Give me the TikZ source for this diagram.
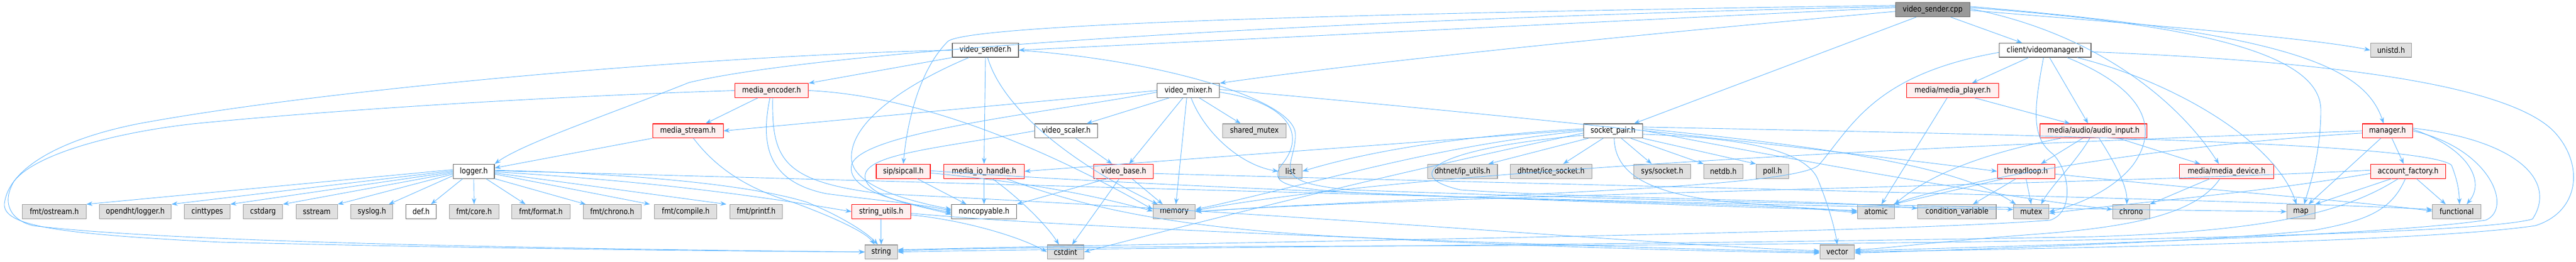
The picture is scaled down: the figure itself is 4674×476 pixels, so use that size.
\documentclass[tikz,border=0pt]{standalone}
\usepackage{fontspec}
\setmainfont{DejaVu Sans}[FakeStretch=0.86]
\usetikzlibrary{arrows.meta}
\definecolor{eb}{HTML}{63B8FF}
\definecolor{gfill}{HTML}{E0E0E0}
\definecolor{gdraw}{HTML}{999999}
\definecolor{wdraw}{HTML}{666666}
\definecolor{rfill}{HTML}{FFF0F0}
\definecolor{rdraw}{HTML}{FF0000}
\begin{document}
\begin{tikzpicture}[x=1pt,y=-1pt,
  nb/.style={draw, inner sep=0pt, minimum height=25.7pt, line width=1.1pt, font=\fontsize{14.5}{15}\selectfont},
  sysn/.style={nb, fill=gfill, draw=gdraw},
  locn/.style={nb, fill=white, draw=wdraw},
  redn/.style={nb, fill=rfill, draw=rdraw},
  rootn/.style={nb, fill=gdraw, draw=wdraw},
  e/.style={draw=eb, line width=0.9pt, -{Stealth[length=11pt,width=8pt]}}]
\useasboundingbox (0,0) rectangle (4674,476);
\fill[white] (0,0) rectangle (4674,476);
% row 1
\node[rootn, minimum width=134.7pt] (cpp) at (3506.7,17.8) {video\_sender.cpp};
% row 2
\node[locn, minimum width=120pt] (vsh) at (1788,91.2) {video\_sender.h};
\node[locn, minimum width=166.3pt] (vman) at (3710.8,91.2) {client/videomanager.h};
\node[sysn, minimum width=74.5pt] (unistd) at (4338.5,91.2) {unistd.h};
% row 3
\node[redn, minimum width=133.6pt] (menc) at (1400,164.5) {media\_encoder.h};
\node[locn, minimum width=113.3pt] (vmix) at (2156.2,164.5) {video\_mixer.h};
\node[redn, minimum width=166.3pt] (mplayer) at (3542.9,164.5) {media/media\_player.h};
% row 4
\node[redn, minimum width=128pt] (mstream) at (1248.2,237.8) {media\_stream.h};
\node[locn, minimum width=114.2pt] (vscaler) at (1934.7,237.8) {video\_scaler.h};
\node[sysn, minimum width=115.3pt] (smutex) at (2276,237.8) {shared\_mutex};
\node[locn, minimum width=106.6pt] (spair) at (2926.8,237.8) {socket\_pair.h};
\node[redn, minimum width=194.4pt] (ainput) at (3798.7,237.8) {media/audio/audio\_input.h};
\node[redn, minimum width=90.8pt] (manager) at (4331.9,237.8) {manager.h};
% row 5
\node[locn, minimum width=74.5pt] (logger) at (859.7,311.2) {logger.h};
\node[redn, minimum width=98pt] (sipcall) at (1639,311.2) {sip/sipcall.h};
\node[redn, minimum width=145.7pt] (mioh) at (1785.5,311.2) {media\_io\_handle.h};
\node[redn, minimum width=108pt] (vbase) at (2038.8,311.2) {video\_base.h};
\node[sysn, minimum width=42.5pt] (list) at (2341.3,311.2) {list};
\node[sysn, minimum width=126.8pt] (iputils) at (2653.6,311.2) {dhtnet/ip\_utils.h};
\node[sysn, minimum width=148pt] (icesock) at (2814.3,311.2) {dhtnet/ice\_socket.h};
\node[sysn, minimum width=103.1pt] (syssock) at (3015.9,311.2) {sys/socket.h};
\node[sysn, minimum width=70.5pt] (netdb) at (3126.8,311.2) {netdb.h};
\node[sysn, minimum width=59pt] (poll) at (3216,311.2) {poll.h};
\node[redn, minimum width=104pt] (tloop) at (3676.1,311.2) {threadloop.h};
\node[redn, minimum width=171pt] (mdevice) at (4040,311.2) {media/media\_device.h};
\node[redn, minimum width=136.2pt] (afactory) at (4369.4,311.2) {account\_factory.h};
% row 6
\node[sysn, minimum width=115.3pt] (ostream) at (98.5,384.5) {fmt/ostream.h};
\node[sysn, minimum width=130.6pt] (opendht) at (245.4,384.5) {opendht/logger.h};
\node[sysn, minimum width=82.6pt] (cinttypes) at (376,384.5) {cinttypes};
\node[sysn, minimum width=71pt] (cstdarg) at (477.3,384.5) {cstdarg};
\node[sysn, minimum width=75pt] (sstream) at (574.7,384.5) {sstream};
\node[sysn, minimum width=76.1pt] (syslog) at (674.8,384.5) {syslog.h};
\node[locn, minimum width=54.6pt] (def) at (764,384.5) {def.h};
\node[sysn, minimum width=89.8pt] (fcore) at (860.2,384.5) {fmt/core.h};
\node[sysn, minimum width=105.6pt] (fformat) at (981.4,384.5) {fmt/format.h};
\node[sysn, minimum width=105.1pt] (fchrono) at (1110.8,384.5) {fmt/chrono.h};
\node[sysn, minimum width=112.7pt] (fcompile) at (1244.2,384.5) {fmt/compile.h};
\node[sysn, minimum width=94.9pt] (fprintf) at (1372,384.5) {fmt/printf.h};
\node[redn, minimum width=106.7pt] (sutils) at (1598.9,384.5) {string\_utils.h};
\node[locn, minimum width=117.4pt] (noncopy) at (1785.5,384.5) {noncopyable.h};
\node[sysn, minimum width=76.6pt] (memory) at (2130.6,384.5) {memory};
\node[sysn, minimum width=66.5pt] (atomic) at (3403.8,384.5) {atomic};
\node[sysn, minimum width=142.3pt] (condvar) at (3550.8,384.5) {condition\_variable};
\node[sysn, minimum width=63.8pt] (mutex) at (3685.5,384.5) {mutex};
\node[sysn, minimum width=66.5pt] (chrono) at (3866.8,384.5) {chrono};
\node[sysn, minimum width=50.8pt] (map) at (4174.7,384.5) {map};
\node[sysn, minimum width=87.4pt] (functional) at (4457.5,384.5) {functional};
% row 7
\node[sysn, minimum width=58.5pt] (string) at (1598.9,457.8) {string};
\node[sysn, minimum width=66.5pt] (cstdint) at (1933.3,457.8) {cstdint};
\node[sysn, minimum width=62.5pt] (vector) at (3333.5,457.8) {vector};

% ---- edges from video_sender.cpp
\draw[e] ([yshift=4pt]cpp.west) -- (vsh.east);
\draw[e] ([yshift=-3pt]cpp.west) .. controls (3000,60) and (2500,110) .. (vmix.north east);
\draw[e] ([xshift=-30pt]cpp.south) -- ([xshift=38pt]spair.north);
\draw[e] ([xshift=33pt]cpp.south) -- ([xshift=-42pt]vman.north);
\draw[e] ([yshift=6pt]cpp.west) .. controls (2400,35) and (1500,90) .. (1250,150) .. controls (1100,210) and (950,260) .. (logger.north east);
\draw[e] ([yshift=8pt]cpp.west) .. controls (2400,25) and (1760,45) .. (1720,75) .. controls (1665,130) and (1645,230) .. (sipcall.north);
\draw[e] ([yshift=6pt]cpp.east) .. controls (4150,60) and (4290,120) .. ([xshift=-7pt]manager.north);
\draw[e] ([yshift=2pt]cpp.east) .. controls (3800,60) and (3950,180) .. ([xshift=-14pt]mdevice.north);
\draw[e] ([yshift=4pt]cpp.east) .. controls (4000,45) and (4211,100) .. (4211,200) .. controls (4211,280) and (4190,340) .. ([xshift=6pt]map.north);
\draw[e] ([yshift=-1pt]cpp.east) .. controls (3900,45) and (4200,70) .. (unistd.west);

% ---- video_sender.h
\draw[e] (vsh.south west) -- (menc.north east);
\draw[e] (vsh.south) -- (mioh.north);
\draw[e] ([xshift=-30pt]vsh.south) .. controls (1650,150) and (1540,220) .. (1545,290) .. controls (1550,340) and (1650,365) .. ([yshift=4pt]noncopy.west);
\draw[e] ([xshift=4pt]vsh.south) .. controls (1820,200) and (1950,300) .. ([xshift=-30pt]memory.north);
\draw[e] (vsh.west) .. controls (1300,100) and (600,160) .. (250,225) .. controls (100,255) and (15,310) .. (8,370) .. controls (5,410) and (100,425) .. (400,440) .. controls (900,452) and (1300,456) .. (string.west);
\draw[e] (vsh.east) .. controls (2110,110) and (2340,180) .. (2350,240) .. controls (2355,300) and (2290,330) .. (2450,345) .. controls (3200,372) and (3800,380) .. (map.west);

% ---- media_encoder.h
\draw[e] ([xshift=-25pt]menc.south) -- ([xshift=32pt]mstream.north);
\draw[e] (menc.west) .. controls (1000,175) and (600,200) .. (350,225) .. controls (200,242) and (60,282) .. (25,330) .. controls (2,370) and (20,400) .. (60,410) .. controls (300,440) and (1000,452) .. (string.west);
\draw[e] ([xshift=-3pt]menc.south) .. controls (1380,260) and (1390,330) .. (1500,352) .. controls (1600,365) and (1680,372) .. ([yshift=1pt]noncopy.west);
\draw[e] (menc.east) .. controls (1700,175) and (1950,300) .. ([yshift=4pt]memory.west);
\draw[e] ([xshift=2pt]menc.south) .. controls (1400,290) and (1420,330) .. (1600,352) .. controls (2400,390) and (3000,445) .. ([yshift=2pt]vector.west);

% ---- media_stream.h
\draw[e] (mstream.south west) -- ([yshift=6pt]logger.east);
\draw[e] ([xshift=10pt]mstream.south) .. controls (1310,320) and (1380,350) .. (1440,368) .. controls (1500,390) and (1570,420) .. ([xshift=-12pt]string.north);

% ---- logger.h
\draw[e] ([yshift=3pt]logger.west) -- (ostream.north east);
\draw[e] ([yshift=1pt]logger.west) -- (opendht.north east);
\draw[e] ([yshift=-1pt]logger.west) -- (cinttypes.north east);
\draw[e] ([yshift=-3pt]logger.west) -- (cstdarg.north east);
\draw[e] ([yshift=-5pt]logger.west) -- (sstream.north east);
\draw[e] ([yshift=-8pt]logger.west) -- ([xshift=-8pt]syslog.north east);
\draw[e] ([xshift=-20pt]logger.south) -- ([xshift=18pt]def.north);
\draw[e] (logger.south) -- (fcore.north);
\draw[e] ([xshift=22pt]logger.south) -- ([xshift=-28pt]fformat.north);
\draw[e] (logger.south east) -- ([xshift=5pt]fchrono.north west);
\draw[e] ([yshift=-5pt]logger.east) -- ([xshift=-8pt]fcompile.north west);
\draw[e] ([yshift=-3pt]logger.east) -- ([xshift=-6pt]fprintf.north west);
\draw[e] ([yshift=-1pt]logger.east) .. controls (1200,330) and (1400,360) .. (sutils.west);
\draw[e] ([yshift=2pt]logger.east) .. controls (1157,316) and (1361,336) .. (1463,367) .. controls (1520,390) and (1570,420) .. ([xshift=-6pt]string.north);
\draw[e] ([yshift=1pt]logger.east) .. controls (1600,328) and (3000,370) .. ([yshift=4pt]mutex.west);

% ---- video_mixer.h
\draw[e] (vmix.west) -- (mstream.east);
\draw[e] ([yshift=-3pt]vmix.west) .. controls (1900,205) and (1560,240) .. (1545,300) .. controls (1535,350) and (1650,370) .. ([yshift=-2pt]noncopy.west);
\draw[e] ([xshift=-35pt]vmix.south) -- ([xshift=37pt]vscaler.north);
\draw[e] ([xshift=-10pt]vmix.south) -- ([xshift=10pt]vbase.north);
\draw[e] ([xshift=-3pt]vmix.south) -- ([xshift=3pt]memory.north);
\draw[e] ([xshift=20pt]vmix.south) -- ([xshift=-25pt]smutex.north);
\draw[e] ([xshift=5pt]vmix.south) .. controls (2185,240) and (2250,300) .. (list.west);
\draw[e] ([yshift=2pt]vmix.east) .. controls (2800,215) and (3300,270) .. (tloop.west);
\draw[e] ([yshift=-3pt]vmix.east) .. controls (2330,185) and (2375,240) .. (2325,300) .. controls (2295,340) and (2360,345) .. (2500,352) .. controls (2900,368) and (3250,372) .. (atomic.west);

% ---- video_scaler.h
\draw[e] ([xshift=17pt]vscaler.south) -- ([xshift=-21pt]vbase.north);
\draw[e] (vscaler.west) .. controls (1700,270) and (1560,280) .. (1570,325) .. controls (1580,360) and (1660,372) .. ([yshift=-5pt]noncopy.west);

% ---- sip/sipcall.h
\draw[e] ([xshift=25pt]sipcall.south) -- ([xshift=-32pt]noncopy.north);
\draw[e] ([yshift=-3pt]sipcall.east) .. controls (1900,335) and (2000,360) .. ([yshift=1pt]memory.west);
\draw[e] ([yshift=1pt]sipcall.east) .. controls (2100,340) and (2900,368) .. ([yshift=2pt]atomic.west);

% ---- media_io_handle.h
\draw[e] (mioh.south) -- (noncopy.north);
\draw[e] ([xshift=15pt]mioh.south) .. controls (1850,360) and (1900,410) .. ([xshift=-12pt]cstdint.north);
\draw[e] ([xshift=40pt]mioh.south) .. controls (1950,370) and (2100,410) .. (2400,428) .. controls (2800,450) and (3100,456) .. ([yshift=-2pt]vector.west);

% ---- video_base.h
\draw[e] ([xshift=-30pt]vbase.south) -- (noncopy.north east);
\draw[e] ([xshift=-8pt]vbase.south) -- ([xshift=12pt]cstdint.north);
\draw[e] ([xshift=15pt]vbase.south) -- ([xshift=-21pt]memory.north);
\draw[e] ([yshift=-4pt]vbase.east) .. controls (2800,335) and (4000,360) .. ([yshift=4pt]functional.west);

% ---- string_utils.h
\draw[e] (sutils.south) -- (string.north);
\draw[e] ([yshift=-6pt]sutils.east) .. controls (1750,400) and (1850,430) .. (cstdint.west);
\draw[e] ([yshift=-3pt]sutils.east) .. controls (2000,420) and (3000,452) .. (vector.west);

% ---- socket_pair.h
\draw[e] ([yshift=2pt]spair.west) -- (mioh.east);
\draw[e] ([xshift=-45pt]spair.south) -- ([xshift=47pt]iputils.north);
\draw[e] ([xshift=-18pt]spair.south) -- ([xshift=22pt]icesock.north);
\draw[e] ([xshift=15pt]spair.south) -- ([xshift=-19pt]syssock.north);
\draw[e] ([xshift=32pt]spair.south) -- (netdb.north west);
\draw[e] (spair.south east) -- (poll.north west);
\draw[e] ([yshift=4pt]spair.west) .. controls (2600,250) and (2450,285) .. (list.east);
\draw[e] ([yshift=0pt]spair.west) .. controls (2600,265) and (2400,330) .. ([yshift=4pt]memory.east);
\draw[e] ([yshift=-4pt]spair.west) .. controls (2500,320) and (2150,410) .. (cstdint.east);
\draw[e] ([yshift=-8pt]spair.west) .. controls (2600,270) and (2540,320) .. (2650,345) .. controls (2900,362) and (3300,362) .. ([yshift=6pt]condvar.west);
\draw[e] ([xshift=2pt]spair.south) .. controls (2930,320) and (3000,355) .. (3150,368) .. controls (3250,376) and (3320,382) .. ([yshift=-2pt]atomic.west);
\draw[e] ([yshift=-6pt]spair.east) .. controls (3150,250) and (3280,270) .. (3300,330) .. controls (3320,380) and (3330,420) .. (vector.north);
\draw[e] ([yshift=7pt]spair.east) .. controls (3700,245) and (4400,260) .. (4448,300) .. controls (4460,330) and (4462,350) .. ([xshift=5pt]functional.north);
\draw[e] ([yshift=4pt]spair.east) .. controls (3300,265) and (3550,300) .. ([xshift=-28pt]mutex.north);
\draw[e] ([yshift=1pt]spair.east) .. controls (3300,300) and (3650,360) .. ([yshift=4pt]chrono.west);

% ---- threadloop.h
\draw[e] ([xshift=-40pt]tloop.south) -- ([xshift=-2pt]atomic.north east);
\draw[e] ([xshift=-18pt]tloop.south) -- ([xshift=29pt]condvar.north);
\draw[e] (tloop.south) -- (mutex.north);
\draw[e] ([yshift=-5pt]tloop.east) .. controls (4000,345) and (4300,368) .. ([yshift=1pt]functional.west);

% ---- media/audio/audio_input.h
\draw[e] ([xshift=-20pt]ainput.south) -- ([xshift=27pt]tloop.north);
\draw[e] ([xshift=-60pt]ainput.south) .. controls (3608,277) and (3506,313) .. (atomic.north east);
\draw[e] ([xshift=-7pt]ainput.south) .. controls (3770,290) and (3720,340) .. ([xshift=18pt]mutex.north);
\draw[e] ([xshift=10pt]ainput.south) .. controls (3840,300) and (3860,340) .. ([xshift=-8pt]chrono.north);
\draw[e] ([xshift=45pt]ainput.south) -- ([xshift=-48pt]mdevice.north);

% ---- media/media_player.h
\draw[e] ([xshift=40pt]mplayer.south) -- ([xshift=-43pt]ainput.north);
\draw[e] ([xshift=-10pt]mplayer.south) -- ([xshift=10pt]atomic.north);

% ---- client/videomanager.h
\draw[e] ([xshift=-30pt]vman.south) -- ([xshift=35pt]mplayer.north);
\draw[e] ([xshift=8pt]vman.south) -- ([xshift=-10pt]ainput.north);
\draw[e] ([xshift=40pt]vman.south) .. controls (3863,150) and (3930,217) .. (3870,300) .. controls (3830,350) and (3760,375) .. (mutex.east);
\draw[e] ([yshift=-4pt]vman.west) .. controls (3400,135) and (3360,230) .. (3300,300) .. controls (3250,345) and (2600,355) .. (memory.east);
\draw[e] ([xshift=-3pt]vman.south) .. controls (3690,200) and (3685,250) .. (3725,280) .. controls (3755,310) and (3765,385) .. (3720,400) .. controls (3400,425) and (2200,440) .. ([yshift=4pt]string.east);
\draw[e] ([yshift=-3pt]vman.east) .. controls (4200,110) and (4550,150) .. (4635,240) .. controls (4690,300) and (4680,385) .. (4600,410) .. controls (4400,440) and (3700,452) .. (vector.east);
\draw[e] ([xshift=58pt]vman.south) .. controls (3950,150) and (4130,260) .. ([xshift=-8pt]map.north);

% ---- manager.h
\draw[e] ([xshift=8pt]manager.south) -- ([xshift=-8pt]afactory.north);
\draw[e] ([xshift=-12pt]manager.south) -- ([xshift=14pt]map.north);
\draw[e] ([yshift=3pt]manager.east) .. controls (4480,270) and (4510,330) .. ([xshift=18pt]functional.north);
\draw[e] ([yshift=0pt]manager.east) .. controls (4520,270) and (4560,380) .. (4510,400) .. controls (4300,430) and (3700,446) .. ([yshift=2pt]vector.east);
\draw[e] ([yshift=5pt]manager.east) .. controls (4570,255) and (4640,330) .. (4595,398) .. controls (4500,425) and (3800,440) .. (3000,445) .. controls (2300,448) and (1800,448) .. ([yshift=2pt]string.east);
\draw[e] (manager.west) .. controls (3800,255) and (2600,300) .. ([yshift=2pt]memory.east);
\draw[e] ([yshift=-4pt]manager.west) .. controls (3900,265) and (3550,330) .. ([xshift=-2pt]atomic.north east);

% ---- account_factory.h
\draw[e] ([xshift=-30pt]afactory.south) -- (map.north east);
\draw[e] ([xshift=15pt]afactory.south) -- ([xshift=-20pt]functional.north);
\draw[e] ([xshift=-5pt]afactory.south) .. controls (4340,380) and (4300,400) .. (4200,418) .. controls (4000,440) and (3600,452) .. ([yshift=-2pt]vector.east);
\draw[e] ([xshift=-18pt]afactory.south) .. controls (4250,390) and (4100,420) .. (3800,430) .. controls (3000,445) and (2000,450) .. (string.east);
\draw[e] ([yshift=2pt]afactory.west) .. controls (3800,335) and (2600,355) .. (memory.east);
\draw[e] ([yshift=-4pt]afactory.west) .. controls (4100,350) and (3900,365) .. ([yshift=-3pt]mutex.east);

% ---- media/media_device.h
\draw[e] ([xshift=-30pt]mdevice.south) -- (chrono.north east);
\draw[e] ([xshift=-12pt]mdevice.south) .. controls (3990,380) and (3900,410) .. (3700,425) .. controls (3500,440) and (3420,452) .. ([yshift=4pt]vector.east);
\end{tikzpicture}
\end{document}
